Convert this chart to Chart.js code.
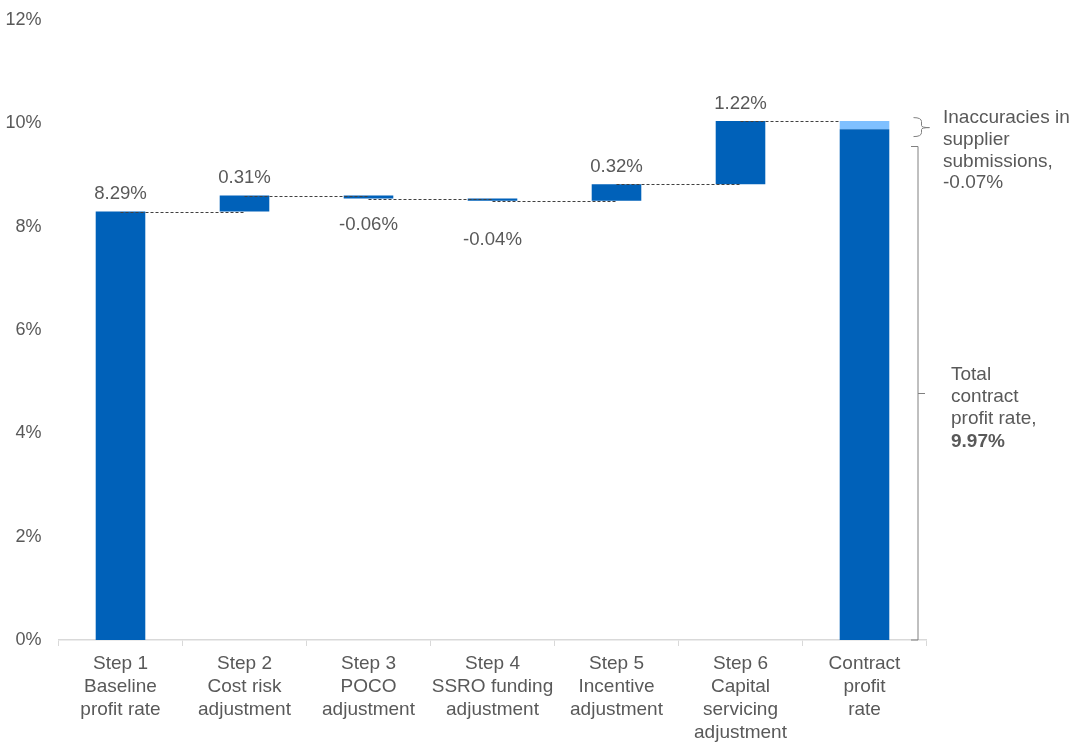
<!DOCTYPE html>
<html>
<head>
<meta charset="utf-8">
<script src="https://cdn.jsdelivr.net/npm/chart.js@4/dist/chart.umd.min.js"></script>
<style>
  html, body { margin: 0; padding: 0; background: #ffffff; }
  #wrap { width: 1074px; height: 742px; position: relative; }
</style>
</head>
<body>
<div id="wrap"><canvas id="c" width="1074" height="742"></canvas></div>
<script>
// ---- data ----
const categories = [
  ["Step 1", "Baseline", "profit rate"],
  ["Step 2", "Cost risk", "adjustment"],
  ["Step 3", "POCO", "adjustment"],
  ["Step 4", "SSRO funding", "adjustment"],
  ["Step 5", "Incentive", "adjustment"],
  ["Step 6", "Capital", "servicing", "adjustment"],
  ["Contract", "profit", "rate"]
];
const stepValues = [8.29, 0.31, -0.06, -0.04, 0.32, 1.22];
// annotated values (text)
const totalContractRate = 9.97;
const inaccuracyValue = -0.07;
// contract bar segments as drawn in the picture (dark part, light part)
const contractBarDrawn = [9.88, 0.16];
const yTicks = [0, 2, 4, 6, 8, 10, 12];

// ---- build floating bars ----
const mainBars = [];
let running = 0;
const ends = [];
stepValues.forEach(v => {
  mainBars.push([running, running + v]);
  running = running + v;
  ends.push(running);
});
mainBars.push([0, contractBarDrawn[0]]);
const inaccuracyBars = categories.map((c, i) =>
  i === categories.length - 1 ? [contractBarDrawn[0], contractBarDrawn[0] + contractBarDrawn[1]] : null);

const TEXT = '#595959';
const FONT = '"Liberation Sans", Arial, sans-serif';

const overlayPlugin = {
  id: 'overlay',
  afterDatasetsDraw(chart) {
    const ctx = chart.ctx;
    const x = chart.scales.x, y = chart.scales.y;
    const area = chart.chartArea;
    ctx.save();
    // connectors
    ctx.strokeStyle = '#404040';
    ctx.lineWidth = 1;
    ctx.setLineDash([3, 2]);
    for (let i = 0; i < ends.length; i++) {
      const yy = Math.round(y.getPixelForValue(ends[i])) + 0.5;
      const xEnd = i === ends.length - 1
        ? x.getPixelForValue(i + 1) - 25
        : x.getPixelForValue(i + 1);
      ctx.beginPath();
      ctx.moveTo(x.getPixelForValue(i), yy);
      ctx.lineTo(xEnd, yy);
      ctx.stroke();
    }
    ctx.setLineDash([]);
    // value labels
    const offsets = [-18, -17.5, 26, 39, -17, -17];
    ctx.fillStyle = TEXT;
    ctx.font = '18.6px ' + FONT;
    ctx.textAlign = 'center';
    ctx.textBaseline = 'middle';
    stepValues.forEach((v, i) => {
      const [a, b] = mainBars[i];
      const ref = v >= 0 ? Math.max(a, b) : Math.min(a, b);
      const yy = y.getPixelForValue(ref) + offsets[i];
      ctx.fillText(v.toFixed(2) + '%', x.getPixelForValue(i), yy);
    });
    // brackets
    ctx.strokeStyle = '#808080';
    ctx.lineWidth = 1;
    const bx = area.right - 8.5;
    // upper brace
    const yTop = y.getPixelForValue(contractBarDrawn[0] + contractBarDrawn[1]);
    const u0 = yTop - 3.5, u1 = yTop + 15.5;
    const um = (u0 + u1) / 2 + 0.5;
    const ux0 = 913.5, ux1 = 921.5, ux2 = 929.5;
    ctx.beginPath();
    ctx.moveTo(ux0, u0);
    ctx.quadraticCurveTo(ux1, u0, ux1, u0 + 4);
    ctx.lineTo(ux1, um - 2);
    ctx.quadraticCurveTo(ux1, um, ux2, um);
    ctx.quadraticCurveTo(ux1, um, ux1, um + 2);
    ctx.lineTo(ux1, u1 - 4);
    ctx.quadraticCurveTo(ux1, u1, ux0, u1);
    ctx.stroke();
    // lower bracket
    const l0 = Math.round(u1 + 9) + 0.5, l1 = area.bottom;
    const lm = Math.round((l0 + l1) / 2) + 0.5;
    ctx.beginPath();
    ctx.moveTo(911, l0);
    ctx.lineTo(bx, l0);
    ctx.lineTo(bx, l1);
    ctx.lineTo(911, l1);
    ctx.moveTo(bx, lm);
    ctx.lineTo(bx + 7, lm);
    ctx.stroke();
    // annotation texts
    ctx.fillStyle = TEXT;
    ctx.textAlign = 'left';
    ctx.textBaseline = 'middle';
    ctx.font = '19px ' + FONT;
    const t1 = ['Inaccuracies in', 'supplier', 'submissions,', inaccuracyValue.toFixed(2) + '%'];
    t1.forEach((s, i) => ctx.fillText(s, 943, 118 + i * 21.7));
    const t2 = ['Total', 'contract', 'profit rate,'];
    t2.forEach((s, i) => ctx.fillText(s, 951, lm - 19 + i * 22.3));
    ctx.font = 'bold 19px ' + FONT;
    ctx.fillText(totalContractRate.toFixed(2) + '%', 951, lm - 19 + 3 * 22.3);
    ctx.restore();
  }
};

new Chart(document.getElementById('c'), {
  type: 'bar',
  data: {
    labels: categories,
    datasets: [
      {
        data: mainBars,
        backgroundColor: '#0061B9',
        borderWidth: 0,
        grouped: false,
        barPercentage: 0.4,
        categoryPercentage: 1.0
      },
      {
        data: inaccuracyBars,
        backgroundColor: '#7FC0FF',
        borderWidth: 0,
        grouped: false,
        barPercentage: 0.4,
        categoryPercentage: 1.0
      }
    ]
  },
  options: {
    responsive: false,
    animation: false,
    layout: { padding: { top: 11, right: 147.5, bottom: 0, left: 0 } },
    plugins: { legend: { display: false }, tooltip: { enabled: false } },
    scales: {
      x: {
        grid: { display: true, drawOnChartArea: false, drawTicks: true, tickLength: 6, color: '#d9d9d9', offset: true },
        border: { display: true, color: '#d9d9d9', width: 1.5 },
        ticks: {
          color: TEXT, font: { family: FONT, size: 19, lineHeight: 1.21 },
          autoSkip: false, maxRotation: 0, minRotation: 0, padding: 6
        },
        afterFit(s) { s.height = 102; }
      },
      y: {
        min: 0, max: 12,
        afterBuildTicks(s) { s.ticks = yTicks.map(v => ({ value: v })); },
        grid: { display: false },
        border: { display: false },
        ticks: {
          color: TEXT, font: { family: FONT, size: 18 }, padding: 9,
          callback: v => v + '%'
        },
        afterFit(s) { s.width = 58.5; }
      }
    }
  },
  plugins: [overlayPlugin]
});
</script>
</body>
</html>
